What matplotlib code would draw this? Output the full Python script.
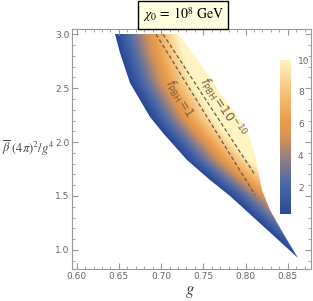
import numpy as np
import matplotlib
matplotlib.use("Agg")
import matplotlib.pyplot as plt
from matplotlib.colors import LinearSegmentedColormap
from matplotlib.ticker import MultipleLocator
from matplotlib.path import Path
from matplotlib.patches import PathPatch

# boundaries of the colored region (g, beta-bar)
left_g = [0.6454, 0.6513, 0.6632, 0.6869, 0.7023, 0.7307, 0.7580, 0.7816, 0.8207, 0.8620]
left_y = [3.000, 2.827, 2.548, 2.233, 2.084, 1.834, 1.648, 1.500, 1.222, 0.926]
right_g = [0.7200, 0.7461, 0.7733, 0.7935, 0.8053, 0.8124, 0.8196, 0.8290, 0.8444, 0.8620]
right_y = [3.000, 2.734, 2.418, 2.204, 2.046, 1.833, 1.555, 1.370, 1.158, 0.926]

# dashed contour lines
f1_g = [0.6940, 0.8113]
f1_y = [3.00, 1.509]
f10_g = [0.7023, 0.8113]
f10_y = [3.00, 1.695]

cbar_ticks = [2, 4, 6, 8, 10]
x_ticks = [0.60, 0.65, 0.70, 0.75, 0.80, 0.85]
y_ticks = [1.0, 1.5, 2.0, 2.5, 3.0]

W, H = 313, 301
fig = plt.figure(figsize=(W / 100, H / 100), dpi=100)
ax = fig.add_axes([72 / W, 1 - 269.3 / H, (311 - 72) / W, (269.3 - 29.3) / H])
ax.set_xlim(0.5944, 0.8776)
ax.set_ylim(0.82, 3.046)

cmap = LinearSegmentedColormap.from_list("m", [
    (0.00, "#2b4a96"), (0.20, "#4d69a8"), (0.35, "#8f7d84"),
    (0.50, "#d69256"), (0.60, "#e99c4c"), (0.80, "#f5c37d"), (1.00, "#fff3c2")])

# value field: grows with distance from the left boundary
gg = np.linspace(0.59, 0.88, 600)
yy = np.linspace(0.9, 3.0, 500)
G, Y = np.meshgrid(gg, yy)
ly = np.array(left_y)[::-1]; lg = np.array(left_g)[::-1]
gl = np.interp(Y, ly, lg)
V = (G - gl) / (right_g[0] - left_g[0]) * 10.0
V = np.clip(V, 0, 10)
im = ax.pcolormesh(G, Y, V, cmap=cmap, vmin=0.3, vmax=10, shading="auto", rasterized=True)

verts = list(zip(left_g, left_y)) + list(zip(right_g[::-1], right_y[::-1]))
path = Path(verts + [verts[0]], closed=True)
patch = PathPatch(path, facecolor="none", edgecolor="none", transform=ax.transData)
ax.add_patch(patch)
im.set_clip_path(patch)

ax.plot(f1_g, f1_y, ls=(0, (3, 2)), color="#6e5a45", lw=0.9)
ax.plot(f10_g, f10_y, ls=(0, (3, 2)), color="#6e5a45", lw=0.9)
ax.text(0.7212, 2.40, r"$f_{\mathrm{PBH}}\!=\!1$", rotation=-58, fontsize=9, color="#7d6040",
        ha="center", va="center", family="serif")
ax.text(0.7724, 2.316, r"$f_{\mathrm{PBH}}\!=\!10^{-10}$", rotation=-56, fontsize=9, color="#7d6040",
        ha="center", va="center", family="serif")

gray = "#999999"
for s in ax.spines.values():
    s.set_color(gray)
    s.set_linewidth(0.8)
ax.xaxis.set_minor_locator(MultipleLocator(0.01))
ax.yaxis.set_minor_locator(MultipleLocator(0.1))
ax.set_xticks(x_ticks)
ax.set_xticklabels([f"{v:.2f}" for v in x_ticks])
ax.set_yticks(y_ticks)
ax.set_yticklabels([f"{v:.1f}" for v in y_ticks])
ax.tick_params(which="both", direction="in", top=True, right=True, color=gray,
               labelcolor="#666666", labelsize=6.5, pad=2)
ax.tick_params(which="major", length=4)
ax.tick_params(which="minor", length=2)

plt.rcParams["mathtext.fontset"] = "stix"
fig.text(2 / W, 1 - 148 / H, r"$\overline{\beta}\ (4\pi)^2/g^4$", fontsize=9, color="#444444",
         ha="left", va="center")
fig.text(190 / W, 1 - 291 / H, r"$g$", fontsize=12, color="#444444", ha="center", va="center")

fig.text(183 / W, 1 - 15 / H, r"$\chi_0\, =\, 10^8\ \mathrm{GeV}$", fontsize=10, color="black",
         ha="center", va="center",
         bbox=dict(boxstyle="square,pad=0.3", facecolor="#ffffe0", edgecolor="black", linewidth=1))

cax = fig.add_axes([280 / W, 1 - 214 / H, 11 / W, 154 / H])
cb = fig.colorbar(im, cax=cax, ticks=cbar_ticks)
cb.outline.set_visible(False)
cax.tick_params(length=0, labelcolor="#666666", labelsize=6.5, pad=5)

fig.savefig("out.png", dpi=100)
